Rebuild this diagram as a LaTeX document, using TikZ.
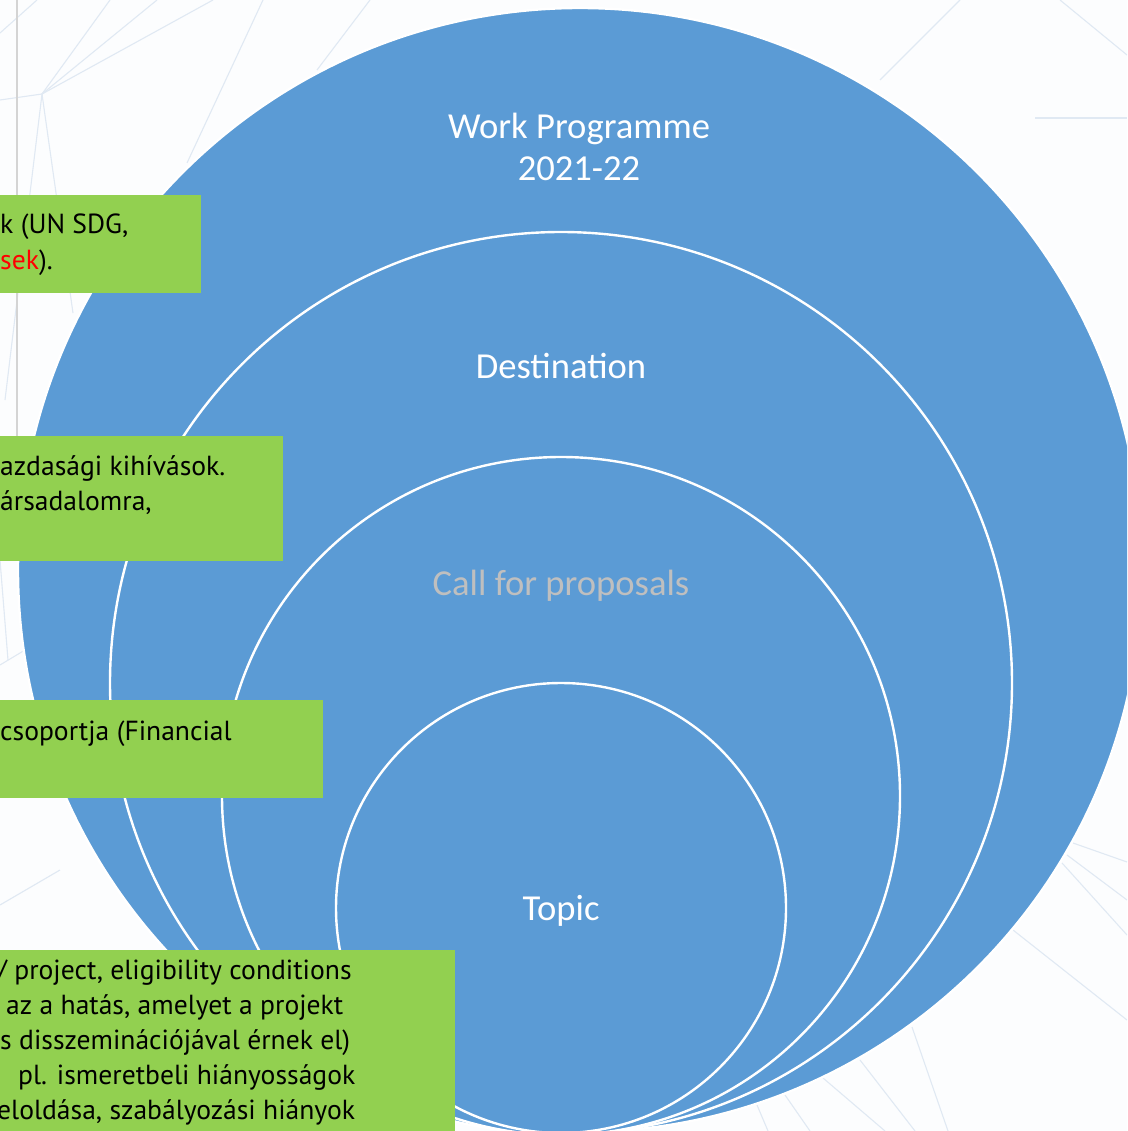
\documentclass[tikz,border=0pt]{standalone}
\usepackage{fontspec}
\setmainfont{Carlito}
\newfontfamily\boxfont{PT Sans}
\definecolor{cblue}{RGB}{91,155,213}
\definecolor{cgreen}{RGB}{146,208,80}
\definecolor{meshc}{RGB}{224,233,243}
\definecolor{bgc}{RGB}{252,253,254}
\definecolor{callgrey}{RGB}{191,191,191}
\definecolor{rulegrey}{RGB}{212,212,212}
\begin{document}
\begin{tikzpicture}[x=1pt,y=-1pt,
  ring/.style={circle,draw=white,line width=2.4pt,fill=cblue,inner sep=0pt,outer sep=0pt},
  lbl/.style={font=\fontsize{36.6}{42}\selectfont,text=white,align=center,inner sep=0pt},
  gbox/.style={fill=cgreen},
  gtxt/.style={font=\boxfont\fontsize{27.6}{35}\selectfont,anchor=base west,inner sep=0pt,text=black},
  meshline/.style={draw=meshc,line width=1.1pt}]
\useasboundingbox (0,0) rectangle (1127,1131);
\clip (0,0) rectangle (1127,1131);
\fill[bgc] (0,0) rectangle (1127,1131);
% faint background mesh
\coordinate (m1) at (42,94);
\draw[meshline] (m1) -- (0,100);
\draw[meshline] (m1) -- (110,0);
\draw[meshline] (m1) -- (157,0);
\draw[meshline] (m1) -- (213,0);
\draw[meshline] (m1) -- (73,313);
\draw[meshline] (m1) -- (5,400);
\draw[meshline] (0,33) -- (37,0);
\draw[meshline] (187,163) -- (263,0);
\draw[meshline] (317,70) -- (370,0);
\draw[meshline] (880,80) -- (960,0);
\draw[meshline] (1060,0) -- (1127,55);
\draw[meshline] (1035,118) -- (1127,118);
\draw[meshline] (1073,843) -- (1127,862);
\draw[meshline] (1067,855) -- (1127,900);
\draw[meshline] (1062,863) -- (1127,935);
\draw[meshline] (1013,930) -- (1127,1020);
\draw[meshline] (912,1027) -- (948,1131);
\draw[meshline] (860,1060) -- (915,1131);
\draw[meshline] (823,1078) -- (885,1131);
\draw[meshline] (785,1095) -- (810,1131);
\draw[meshline] (757,1105) -- (768,1131);
\draw[meshline] (0,905) -- (60,870);
\draw[meshline] (0,560) -- (8,660);
\draw[meshline] (0,665) -- (25,650);
% grey rule
\draw[rulegrey,line width=2.5pt] (17,0) -- (17,436);
% nested circles
\node[ring,minimum size=1124pt] (wp) at (580,570) {};
\node[ring,minimum size=902pt] (dest) at (561,683) {};
\node[ring,minimum size=678pt] (call) at (561,796) {};
\node[ring,minimum size=450pt] (topic) at (561,908) {};
% circle labels
\node[lbl] (wpl) at (579,147) {Work Programme\\2021-22};
\node[lbl,anchor=base] (destl) at (561,378) {Destination};
\node[lbl,anchor=base,text=callgrey] (calll) at (561,595) {Call for proposals};
\node[lbl,anchor=base] (topicl) at (561,920) {Topic};
% green boxes
\fill[gbox] (-1,195) rectangle (201,293);
\fill[gbox] (-1,436) rectangle (283,561);
\fill[gbox] (-1,700) rectangle (323,798);
\fill[gbox] (-1,950) rectangle (455,1135);
% box texts
\node[gtxt] (b1a) at (0,234) {k (UN SDG,};
\node[gtxt] (b1b) at (0,270) {\textcolor{red}{sek}).};
\node[gtxt] (b2a) at (0,475) {azdasági kihívások.};
\node[gtxt] (b2b) at (0,510) {ársadalomra,};
\node[gtxt] (b3a) at (0,740) {csoportja (Financial};
\node[gtxt] (b4a) at (-3,979) {/ project, eligibility conditions};
\node[gtxt] (b4b) at (6,1014) {az a hatás, amelyet a projekt};
\node[gtxt] (b4c) at (0,1049) {s disszeminációjával érnek el)};
\node[gtxt] (b4d) at (18,1084) {pl. ismeretbeli hiányosságok};
\node[gtxt] (b4e) at (-3,1119) {eloldása, szabályozási hiányok};
\end{tikzpicture}
\end{document}
